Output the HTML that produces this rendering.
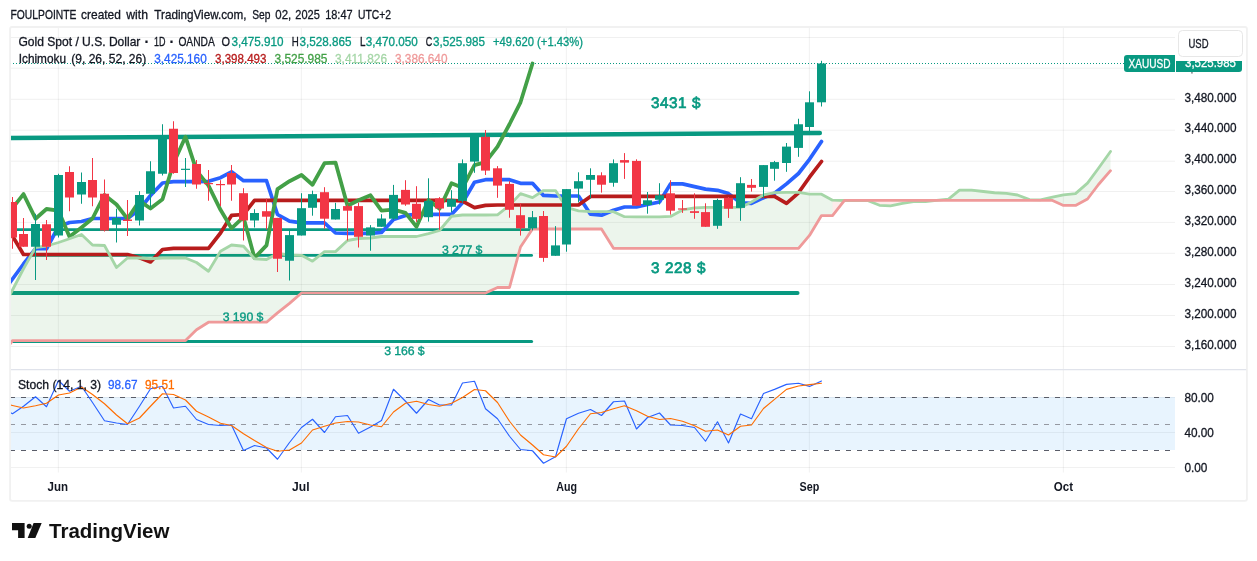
<!DOCTYPE html>
<html lang="en"><head><meta charset="utf-8"><title>Gold Spot / U.S. Dollar - TradingView</title>
<style>html,body{margin:0;padding:0;background:#fff;}body{width:1257px;height:561px;overflow:hidden;}svg{display:block;}text{font-family:"Liberation Sans", sans-serif;}</style>
</head><body>
<svg width="1257" height="561" viewBox="0 0 1257 561">
<rect width="1257" height="561" fill="#fff"/>
<g stroke="#000" stroke-opacity="0.057" stroke-width="1">
<line x1="10" x2="1175" y1="346.5" y2="346.5"/>
<line x1="10" x2="1175" y1="315.5" y2="315.5"/>
<line x1="10" x2="1175" y1="284.5" y2="284.5"/>
<line x1="10" x2="1175" y1="253.3" y2="253.3"/>
<line x1="10" x2="1175" y1="222.4" y2="222.4"/>
<line x1="10" x2="1175" y1="191.5" y2="191.5"/>
<line x1="10" x2="1175" y1="161.2" y2="161.2"/>
<line x1="10" x2="1175" y1="130.2" y2="130.2"/>
<line x1="10" x2="1175" y1="99.3" y2="99.3"/>
<line x1="10" x2="1175" y1="68.2" y2="68.2"/>
<line x1="10" x2="1175" y1="37.5" y2="37.5"/>
<line x1="10" x2="1175" y1="467.45" y2="467.45"/>
<line x1="10" x2="1175" y1="432.45" y2="432.45"/>
<line x1="10" x2="1175" y1="397.45" y2="397.45"/>
<line x1="58.35" x2="58.35" y1="27" y2="472.5"/>
<line x1="301.35" x2="301.35" y1="27" y2="472.5"/>
<line x1="566.35" x2="566.35" y1="27" y2="472.5"/>
<line x1="809.35" x2="809.35" y1="27" y2="472.5"/>
<line x1="1063.35" x2="1063.35" y1="27" y2="472.5"/>
</g>
<rect x="10" y="397" width="1165" height="53" fill="#2196f3" fill-opacity="0.1"/>
<g fill="none" stroke-width="1" shape-rendering="crispEdges">
<line x1="9.9" x2="1175" y1="397.5" y2="397.5" stroke="#5a5d68" stroke-dasharray="5 6"/>
<line x1="9.9" x2="1175" y1="424.5" y2="424.5" stroke="#9598a1" stroke-dasharray="5 6"/>
<line x1="9.9" x2="1175" y1="450.5" y2="450.5" stroke="#5a5d68" stroke-dasharray="5 6"/>
</g>
<defs><clipPath id="cm"><rect x="10.5" y="27" width="1165" height="343"/></clipPath><clipPath id="cs"><rect x="10.5" y="370" width="1165" height="103"/></clipPath></defs>
<g clip-path="url(#cm)">
<g stroke="#089981" stroke-linecap="round" fill="none">
<line x1="10" y1="137.9" x2="819.8" y2="133" stroke-width="4.5"/>
<line x1="10" y1="229.6" x2="531.6" y2="229.6" stroke-width="2.8"/>
<line x1="30" y1="255.4" x2="531.6" y2="255.4" stroke-width="2.8"/>
<line x1="10" y1="293" x2="797.5" y2="293" stroke-width="4.1"/>
<line x1="10" y1="341.4" x2="531.6" y2="341.4" stroke-width="3"/>
</g>
<polygon fill="#43a047" fill-opacity="0.1" points="8,298.69 12.5,290 23.5,268.75 35.5,247.5 46.5,246 58.5,242.5 69.5,238.75 81.5,234.5 92.5,245 104.5,245.5 116.5,267.5 127.5,258 139.5,258 150.5,258.75 162.5,258 173.5,258 185.5,258 196.5,262.5 208.5,271.25 220.5,251.25 231.5,245 243.5,246.25 254.5,258.75 266.5,259.5 277.5,253.5 289.5,255 301.5,255.3 312.5,261.2 324.5,251.62 335.5,251.62 347.5,240.5 358.5,238.5 370.5,238 381.5,236.5 393.5,236.5 405.5,236.5 416.5,236.5 428.5,233.65 439.5,230.5 451.5,216.25 462.5,215 474.5,215 485.5,215 497.5,214.8 509.5,205.35 520.5,193.6 532.5,197.6 543.5,190.55 555.5,190.55 566.5,207.45 578.5,210.8 590.5,211.65 601.5,211.65 613.5,211.65 624.5,216.7 636.5,216.85 647.5,216.85 659.5,216.85 670.5,216.45 682.5,209.95 694.5,207.9 705.5,207.4 717.5,207.4 728.5,207.4 740.5,207.4 751.5,202 763.5,194.9 774.5,192.55 786.5,192.35 798.5,192.35 809.5,194.15 821.5,194.15 832.5,200.2 832.5,215.6 821.5,215.6 809.5,235.4 798.5,248.3 786.5,248.3 774.5,248.3 763.5,248.3 751.5,248.3 740.5,248.3 728.5,248.3 717.5,248.3 705.5,248.3 694.5,248.3 682.5,248.3 670.5,248.3 659.5,248.3 647.5,248.3 636.5,248.3 624.5,248.3 613.5,248.3 601.5,229 590.5,229 578.5,229 566.5,229 555.5,229 543.5,229 532.5,229 520.5,247 509.5,287.5 497.5,287.5 485.5,293 474.5,293 462.5,293 451.5,293 439.5,293 428.5,293 416.5,293 405.5,293 393.5,293 381.5,293 370.5,293 358.5,293 347.5,293 335.5,293 324.5,293 312.5,293 301.5,293 289.5,303.4 277.5,312.9 266.5,322.2 254.5,322.2 243.5,322.2 231.5,322.2 220.5,322.2 208.5,322.2 196.5,329.8 185.5,340.6 173.5,340.6 162.5,340.6 150.5,340.6 139.5,340.6 127.5,340.6 116.5,340.6 104.5,340.6 92.5,340.6 81.5,340.6 69.5,340.6 58.5,340.6 46.5,340.6 35.5,340.6 23.5,340.6 12.5,340.6 8,347"/>
<polygon fill="#f44336" fill-opacity="0.1" points="832.5,200.2 844.5,200.5 855.5,200.5 867.5,200.5 879.5,205.3 890.5,205.8 902.5,203.3 913.5,201.7 925.5,201.7 936.5,200.45 936.5,200.4 925.5,200.4 913.5,200.4 902.5,200.4 890.5,200.4 879.5,200.4 867.5,200.4 855.5,200.4 844.5,200.4 832.5,215.6"/>
<polygon fill="#43a047" fill-opacity="0.1" points="936.5,200.45 948.5,199.2 959.5,190.15 971.5,190.15 983.5,191.5 994.5,192.75 1006.5,193.35 1017.5,195 1029.5,199.6 1040.5,199.85 1052.5,197.1 1063.5,194.85 1075.5,193.6 1087.5,183.15 1098.5,168.25 1110.5,151.5 1110.5,170.7 1098.5,184.5 1087.5,199 1075.5,205.4 1063.5,205.4 1052.5,200.4 1040.5,200.4 1029.5,200.4 1017.5,200.4 1006.5,200.4 994.5,200.4 983.5,200.4 971.5,200.4 959.5,200.4 948.5,200.4 936.5,200.4"/>
<polyline fill="none" stroke="#2962ff" stroke-width="3.7" stroke-linejoin="round" stroke-linecap="round"  points="8,285.14 12.5,279 23.5,264 35.5,248.75 46.5,248.75 58.5,226.5 69.5,222.5 81.5,221.5 92.5,218.5 104.5,218.5 116.5,218.5 127.5,218.5 139.5,209.5 150.5,195.5 162.5,183 173.5,181.7 185.5,181.7 196.5,181.7 208.5,181.3 220.5,177.7 231.5,171.8 243.5,180.7 254.5,180.7 266.5,180.7 277.5,214.5 289.5,221.2 301.5,222.9 312.5,222.9 324.5,222.9 335.5,233 347.5,233.3 358.5,233.3 370.5,233.3 381.5,232.5 393.5,219.5 405.5,215.4 416.5,214.4 428.5,214.4 439.5,214.4 451.5,214.4 462.5,202.8 474.5,182.2 485.5,179.7 497.5,179.7 509.5,179.7 520.5,183.3 532.5,183.3 543.5,195.4 555.5,196 566.5,196 578.5,196 590.5,214.2 601.5,215.2 613.5,210.2 624.5,207 636.5,207 647.5,204.5 659.5,202 670.5,183.9 682.5,183.9 694.5,186.6 705.5,189.1 717.5,190.3 728.5,193.6 740.5,202.8 751.5,203.3 763.5,197.8 774.5,193.3 786.5,183.9 798.5,173.5 809.5,159.3 821.5,141.5"/>
<polyline fill="none" stroke="#b71c1c" stroke-width="3.7" stroke-linejoin="round" stroke-linecap="round"  points="8,228.43 12.5,236 23.5,254.5 35.5,254.5 46.5,254.5 58.5,254.5 69.5,254.5 81.5,254.5 92.5,254.5 104.5,254.5 116.5,254.5 127.5,254.5 139.5,257.8 150.5,262 162.5,249.5 173.5,248.3 185.5,248.3 196.5,248.3 208.5,248.3 220.5,233 231.5,215.4 243.5,214.5 254.5,200.4 266.5,200.4 277.5,200.4 289.5,200.4 301.5,200.4 312.5,200.4 324.5,200.4 335.5,200.4 347.5,200.4 358.5,200.4 370.5,200.4 381.5,200.4 393.5,200.4 405.5,200.4 416.5,200.4 428.5,200.4 439.5,200.4 451.5,200.4 462.5,201.2 474.5,207.6 485.5,205.4 497.5,205 509.5,205 520.5,205 532.5,205 543.5,205 555.5,205 566.5,205 578.5,205 590.5,196.4 601.5,196.4 613.5,196.4 624.5,196.4 636.5,196.4 647.5,196.4 659.5,196.4 670.5,196.4 682.5,196.4 694.5,196.4 705.5,196.4 717.5,196.4 728.5,196.4 740.5,196.4 751.5,196.4 763.5,196.4 774.5,196.4 786.5,203.3 798.5,192.8 809.5,177.2 821.5,161.5"/>
<polyline fill="none" stroke="#43a047" stroke-width="3.8" stroke-linejoin="round" stroke-linecap="round"  points="8,213.97 12.5,208.2 23.5,194.1 35.5,218.7 46.5,209 58.5,210.7 69.5,236.8 81.5,227.4 92.5,218.5 104.5,194.9 116.5,204.5 127.5,218.9 139.5,200.9 150.5,208.5 162.5,199.2 173.5,163.2 185.5,136.8 196.5,170.6 208.5,185.6 220.5,209.8 231.5,228.3 243.5,217.2 254.5,257.9 266.5,245.4 277.5,189.1 289.5,181.2 301.5,175 312.5,184.7 324.5,163.2 335.5,162.6 347.5,205.7 358.5,200.3 370.5,195.3 381.5,210.7 393.5,209.6 405.5,212.9 416.5,226.8 428.5,200 439.5,208.7 451.5,183.2 462.5,187.8 474.5,165.1 485.5,162.1 497.5,146.6 509.5,124.25 520.5,102.3 532.5,63.5"/>
<polyline fill="none" stroke="#a5d6a7" stroke-width="2.8" stroke-linejoin="round" stroke-linecap="round"  points="8,298.69 12.5,290 23.5,268.75 35.5,247.5 46.5,246 58.5,242.5 69.5,238.75 81.5,234.5 92.5,245 104.5,245.5 116.5,267.5 127.5,258 139.5,258 150.5,258.75 162.5,258 173.5,258 185.5,258 196.5,262.5 208.5,271.25 220.5,251.25 231.5,245 243.5,246.25 254.5,258.75 266.5,259.5 277.5,253.5 289.5,255 301.5,255.3 312.5,261.2 324.5,251.62 335.5,251.62 347.5,240.5 358.5,238.5 370.5,238 381.5,236.5 393.5,236.5 405.5,236.5 416.5,236.5 428.5,233.65 439.5,230.5 451.5,216.25 462.5,215 474.5,215 485.5,215 497.5,214.8 509.5,205.35 520.5,193.6 532.5,197.6 543.5,190.55 555.5,190.55 566.5,207.45 578.5,210.8 590.5,211.65 601.5,211.65 613.5,211.65 624.5,216.7 636.5,216.85 647.5,216.85 659.5,216.85 670.5,216.45 682.5,209.95 694.5,207.9 705.5,207.4 717.5,207.4 728.5,207.4 740.5,207.4 751.5,202 763.5,194.9 774.5,192.55 786.5,192.35 798.5,192.35 809.5,194.15 821.5,194.15 832.5,200.2 844.5,200.5 855.5,200.5 867.5,200.5 879.5,205.3 890.5,205.8 902.5,203.3 913.5,201.7 925.5,201.7 936.5,200.45 948.5,199.2 959.5,190.15 971.5,190.15 983.5,191.5 994.5,192.75 1006.5,193.35 1017.5,195 1029.5,199.6 1040.5,199.85 1052.5,197.1 1063.5,194.85 1075.5,193.6 1087.5,183.15 1098.5,168.25 1110.5,151.5"/>
<polyline fill="none" stroke="#ef9a9a" stroke-width="2.8" stroke-linejoin="round" stroke-linecap="round"  points="8,347 12.5,340.6 23.5,340.6 35.5,340.6 46.5,340.6 58.5,340.6 69.5,340.6 81.5,340.6 92.5,340.6 104.5,340.6 116.5,340.6 127.5,340.6 139.5,340.6 150.5,340.6 162.5,340.6 173.5,340.6 185.5,340.6 196.5,329.8 208.5,322.2 220.5,322.2 231.5,322.2 243.5,322.2 254.5,322.2 266.5,322.2 277.5,312.9 289.5,303.4 301.5,293 312.5,293 324.5,293 335.5,293 347.5,293 358.5,293 370.5,293 381.5,293 393.5,293 405.5,293 416.5,293 428.5,293 439.5,293 451.5,293 462.5,293 474.5,293 485.5,293 497.5,287.5 509.5,287.5 520.5,247 532.5,229 543.5,229 555.5,229 566.5,229 578.5,229 590.5,229 601.5,229 613.5,248.3 624.5,248.3 636.5,248.3 647.5,248.3 659.5,248.3 670.5,248.3 682.5,248.3 694.5,248.3 705.5,248.3 717.5,248.3 728.5,248.3 740.5,248.3 751.5,248.3 763.5,248.3 774.5,248.3 786.5,248.3 798.5,248.3 809.5,235.4 821.5,215.6 832.5,215.6 844.5,200.4 855.5,200.4 867.5,200.4 879.5,200.4 890.5,200.4 902.5,200.4 913.5,200.4 925.5,200.4 936.5,200.4 948.5,200.4 959.5,200.4 971.5,200.4 983.5,200.4 994.5,200.4 1006.5,200.4 1017.5,200.4 1029.5,200.4 1040.5,200.4 1052.5,200.4 1063.5,205.4 1075.5,205.4 1087.5,199 1098.5,184.5 1110.5,170.7"/>
<rect x="12" y="197" width="1" height="51.75" fill="#f23645"/>
<rect x="8" y="202" width="9" height="35.5" fill="#f23645"/>
<rect x="23" y="218" width="1" height="28.75" fill="#f23645"/>
<rect x="19" y="234" width="9" height="12.75" fill="#f23645"/>
<rect x="35" y="213.75" width="1" height="66.25" fill="#089981"/>
<rect x="31" y="224" width="9" height="22.75" fill="#089981"/>
<rect x="46" y="220" width="1" height="40" fill="#f23645"/>
<rect x="42" y="224.25" width="9" height="22.5" fill="#f23645"/>
<rect x="58" y="173.75" width="1" height="63.75" fill="#089981"/>
<rect x="54" y="175" width="9" height="60.5" fill="#089981"/>
<rect x="69" y="166.25" width="1" height="45" fill="#f23645"/>
<rect x="65" y="172" width="9" height="25.5" fill="#f23645"/>
<rect x="81" y="172.5" width="1" height="31.25" fill="#089981"/>
<rect x="77" y="182" width="9" height="12.5" fill="#089981"/>
<rect x="92" y="158" width="1" height="48.25" fill="#f23645"/>
<rect x="88" y="180" width="9" height="17.5" fill="#f23645"/>
<rect x="104" y="179.5" width="1" height="52" fill="#f23645"/>
<rect x="100" y="193.75" width="9" height="36.75" fill="#f23645"/>
<rect x="116" y="208.75" width="1" height="33.75" fill="#089981"/>
<rect x="112" y="218" width="9" height="6.75" fill="#089981"/>
<rect x="127" y="200" width="1" height="36" fill="#f23645"/>
<rect x="123" y="219.5" width="9" height="1.5" fill="#f23645"/>
<rect x="139" y="191.25" width="1" height="34.25" fill="#089981"/>
<rect x="135" y="195" width="9" height="25.5" fill="#089981"/>
<rect x="150" y="161.25" width="1" height="46.25" fill="#089981"/>
<rect x="146" y="171.25" width="9" height="22.5" fill="#089981"/>
<rect x="162" y="124.25" width="1" height="51.25" fill="#089981"/>
<rect x="158" y="135" width="9" height="38.75" fill="#089981"/>
<rect x="173" y="121.25" width="1" height="52.5" fill="#f23645"/>
<rect x="169" y="128.75" width="9" height="44.25" fill="#f23645"/>
<rect x="185" y="158" width="1" height="29" fill="#089981"/>
<rect x="181" y="168.75" width="9" height="1.2" fill="#089981"/>
<rect x="196" y="160" width="1" height="28.75" fill="#f23645"/>
<rect x="192" y="164" width="9" height="20.5" fill="#f23645"/>
<rect x="208" y="170" width="1" height="30.75" fill="#f23645"/>
<rect x="204" y="183" width="9" height="1.2" fill="#f23645"/>
<rect x="220" y="180.2" width="1" height="25.9" fill="#f23645"/>
<rect x="216" y="184" width="9" height="1.2" fill="#f23645"/>
<rect x="231" y="165" width="1" height="35.75" fill="#f23645"/>
<rect x="227" y="173" width="9" height="11.5" fill="#f23645"/>
<rect x="243" y="188.2" width="1" height="52.3" fill="#f23645"/>
<rect x="239" y="193.2" width="9" height="27.2" fill="#f23645"/>
<rect x="254" y="209.25" width="1" height="18.25" fill="#089981"/>
<rect x="250" y="213" width="9" height="7.5" fill="#089981"/>
<rect x="266" y="198.6" width="1" height="31" fill="#f23645"/>
<rect x="262" y="211.2" width="9" height="5.5" fill="#f23645"/>
<rect x="277" y="217.9" width="1" height="54.1" fill="#f23645"/>
<rect x="273" y="217.9" width="9" height="40.85" fill="#f23645"/>
<rect x="289" y="230.8" width="1" height="49.7" fill="#089981"/>
<rect x="285" y="235.1" width="9" height="25.65" fill="#089981"/>
<rect x="301" y="193.2" width="1" height="42.3" fill="#089981"/>
<rect x="297" y="208.2" width="9" height="27.3" fill="#089981"/>
<rect x="312" y="190.7" width="1" height="25" fill="#089981"/>
<rect x="308" y="194.1" width="9" height="13.7" fill="#089981"/>
<rect x="324" y="187.2" width="1" height="41.6" fill="#f23645"/>
<rect x="320" y="192.2" width="9" height="26.5" fill="#f23645"/>
<rect x="335" y="202.8" width="1" height="16.7" fill="#089981"/>
<rect x="331" y="209" width="9" height="10.5" fill="#089981"/>
<rect x="347" y="204.5" width="1" height="36" fill="#f23645"/>
<rect x="343" y="206.1" width="9" height="4.6" fill="#f23645"/>
<rect x="358" y="202.8" width="1" height="44.7" fill="#f23645"/>
<rect x="354" y="206.1" width="9" height="30.7" fill="#f23645"/>
<rect x="370" y="225.1" width="1" height="25.65" fill="#089981"/>
<rect x="366" y="227.4" width="9" height="8.1" fill="#089981"/>
<rect x="381" y="214.2" width="1" height="12.6" fill="#089981"/>
<rect x="377" y="218.5" width="9" height="8.3" fill="#089981"/>
<rect x="393" y="184.9" width="1" height="35.1" fill="#089981"/>
<rect x="389" y="194.9" width="9" height="23.8" fill="#089981"/>
<rect x="405" y="180.2" width="1" height="25.6" fill="#f23645"/>
<rect x="401" y="189.9" width="9" height="14.6" fill="#f23645"/>
<rect x="416" y="186.2" width="1" height="35.7" fill="#f23645"/>
<rect x="412" y="203.8" width="9" height="15.1" fill="#f23645"/>
<rect x="428" y="178.3" width="1" height="43.3" fill="#089981"/>
<rect x="424" y="200.9" width="9" height="16.3" fill="#089981"/>
<rect x="439" y="197.1" width="1" height="32.7" fill="#f23645"/>
<rect x="435" y="198.4" width="9" height="10.1" fill="#f23645"/>
<rect x="451" y="190.2" width="1" height="21.8" fill="#089981"/>
<rect x="447" y="199.2" width="9" height="7.6" fill="#089981"/>
<rect x="462" y="159.4" width="1" height="43.2" fill="#089981"/>
<rect x="458" y="163.2" width="9" height="37.7" fill="#089981"/>
<rect x="474" y="136.8" width="1" height="36" fill="#089981"/>
<rect x="470" y="136.8" width="9" height="24.8" fill="#089981"/>
<rect x="485" y="130" width="1" height="45" fill="#f23645"/>
<rect x="481" y="136.8" width="9" height="33.8" fill="#f23645"/>
<rect x="497" y="166.1" width="1" height="31.7" fill="#f23645"/>
<rect x="493" y="168.3" width="9" height="17.3" fill="#f23645"/>
<rect x="509" y="181.2" width="1" height="36.5" fill="#f23645"/>
<rect x="505" y="183.9" width="9" height="25.9" fill="#f23645"/>
<rect x="520" y="203.3" width="1" height="32.3" fill="#f23645"/>
<rect x="516" y="215.2" width="9" height="13.1" fill="#f23645"/>
<rect x="532" y="211" width="1" height="19.3" fill="#089981"/>
<rect x="528" y="217.2" width="9" height="11.1" fill="#089981"/>
<rect x="543" y="211" width="1" height="50.8" fill="#f23645"/>
<rect x="539" y="216" width="9" height="41.9" fill="#f23645"/>
<rect x="555" y="226.1" width="1" height="29.7" fill="#089981"/>
<rect x="551" y="245.4" width="9" height="10.4" fill="#089981"/>
<rect x="566" y="189.1" width="1" height="62.6" fill="#089981"/>
<rect x="562" y="189.1" width="9" height="55.4" fill="#089981"/>
<rect x="578" y="172.3" width="1" height="30.1" fill="#089981"/>
<rect x="574" y="181.2" width="9" height="7.4" fill="#089981"/>
<rect x="590" y="168.3" width="1" height="29.9" fill="#089981"/>
<rect x="586" y="175" width="9" height="4.8" fill="#089981"/>
<rect x="601" y="172.3" width="1" height="20.3" fill="#f23645"/>
<rect x="597" y="175.3" width="9" height="9.4" fill="#f23645"/>
<rect x="613" y="159.4" width="1" height="27.3" fill="#089981"/>
<rect x="609" y="163.2" width="9" height="19.6" fill="#089981"/>
<rect x="624" y="153.1" width="1" height="25.8" fill="#f23645"/>
<rect x="620" y="160.1" width="9" height="2.5" fill="#f23645"/>
<rect x="636" y="159.3" width="1" height="46.4" fill="#f23645"/>
<rect x="632" y="160.9" width="9" height="44.8" fill="#f23645"/>
<rect x="647" y="192" width="1" height="21.7" fill="#089981"/>
<rect x="643" y="200.3" width="9" height="4.7" fill="#089981"/>
<rect x="659" y="183.2" width="1" height="21.3" fill="#089981"/>
<rect x="655" y="195.3" width="9" height="4.5" fill="#089981"/>
<rect x="670" y="180.2" width="1" height="34.4" fill="#f23645"/>
<rect x="666" y="193.3" width="9" height="17.4" fill="#f23645"/>
<rect x="682" y="200" width="1" height="12.9" fill="#f23645"/>
<rect x="678" y="208.4" width="9" height="1.2" fill="#f23645"/>
<rect x="694" y="193.3" width="1" height="25.5" fill="#f23645"/>
<rect x="690" y="211.2" width="9" height="1.7" fill="#f23645"/>
<rect x="705" y="203.3" width="1" height="23.5" fill="#f23645"/>
<rect x="701" y="212.1" width="9" height="14.7" fill="#f23645"/>
<rect x="717" y="198.7" width="1" height="30.1" fill="#089981"/>
<rect x="713" y="200" width="9" height="25.8" fill="#089981"/>
<rect x="728" y="197" width="1" height="20.9" fill="#f23645"/>
<rect x="724" y="197.8" width="9" height="10.9" fill="#f23645"/>
<rect x="740" y="177.2" width="1" height="43.6" fill="#089981"/>
<rect x="736" y="183.2" width="9" height="24.7" fill="#089981"/>
<rect x="751" y="179" width="1" height="12.6" fill="#f23645"/>
<rect x="747" y="184.9" width="9" height="2.9" fill="#f23645"/>
<rect x="763" y="165.1" width="1" height="32.7" fill="#089981"/>
<rect x="759" y="165.1" width="9" height="21.8" fill="#089981"/>
<rect x="774" y="160.9" width="1" height="19.8" fill="#089981"/>
<rect x="770" y="162.1" width="9" height="6.7" fill="#089981"/>
<rect x="786" y="143" width="1" height="28.8" fill="#089981"/>
<rect x="782" y="146.6" width="9" height="16.4" fill="#089981"/>
<rect x="798" y="118.75" width="1" height="38.05" fill="#089981"/>
<rect x="794" y="124.25" width="9" height="23.65" fill="#089981"/>
<rect x="809" y="91.3" width="1" height="40.7" fill="#089981"/>
<rect x="805" y="102.3" width="9" height="24.7" fill="#089981"/>
<rect x="821" y="60.8" width="1" height="45.7" fill="#089981"/>
<rect x="817" y="63.5" width="9" height="38.8" fill="#089981"/>
</g>
<line x1="10" x2="1124" y1="63.5" y2="63.5" stroke="#089981" stroke-width="1" stroke-dasharray="1 2" shape-rendering="crispEdges"/>
<text text-rendering="geometricPrecision" transform="translate(651,107.9) scale(1,1.0)" font-size="15.3" fill="#089981" stroke="#089981" stroke-width="0.7" textLength="49.4" lengthAdjust="spacing">3431 $</text>
<text text-rendering="geometricPrecision" transform="translate(442,253.7) scale(1,1.0)" font-size="12.3" fill="#089981" stroke="#089981" stroke-width="0.35" textLength="40.3" lengthAdjust="spacing">3 277 $</text>
<text text-rendering="geometricPrecision" transform="translate(651,272.9) scale(1,1.0)" font-size="15.3" fill="#089981" stroke="#089981" stroke-width="0.7" textLength="54.5" lengthAdjust="spacing">3 228 $</text>
<text text-rendering="geometricPrecision" transform="translate(222.7,320.5) scale(1,1.0)" font-size="12.3" fill="#089981" stroke="#089981" stroke-width="0.35" textLength="40.7" lengthAdjust="spacing">3 190 $</text>
<text text-rendering="geometricPrecision" transform="translate(384.2,354.5) scale(1,1.0)" font-size="12.3" fill="#089981" stroke="#089981" stroke-width="0.35" textLength="40.3" lengthAdjust="spacing">3 166 $</text>
<g clip-path="url(#cs)">
<polyline fill="none" stroke="#2962ff" stroke-width="1.15" stroke-linejoin="round" stroke-linecap="round"  points="8,411.2 12.5,413.75 23.5,406.25 35.5,396.75 46.5,406.75 58.5,380.5 69.5,391.25 81.5,386.25 92.5,402.5 104.5,420.75 116.5,423 127.5,424.5 139.5,406.25 150.5,388.75 162.5,386.25 173.5,408 185.5,406.25 196.5,419.5 208.5,424.5 220.5,425.5 231.5,425 243.5,450.5 254.5,445.5 266.5,448 277.5,459.25 289.5,442.5 301.5,427.5 312.5,419.25 324.5,432.5 335.5,416.75 347.5,415.5 358.5,433.25 370.5,427 381.5,420.5 393.5,389.25 405.5,401.25 416.5,413.25 428.5,399.5 439.5,405 451.5,405 462.5,383 474.5,381.25 485.5,408.75 497.5,418.75 509.5,436.25 520.5,449.5 532.5,450.75 543.5,463.25 555.5,456.75 566.5,418.75 578.5,413.25 590.5,409.5 601.5,415.5 613.5,401.75 624.5,401 636.5,429 647.5,417.5 659.5,413 670.5,425 682.5,425.5 694.5,427.5 705.5,441.25 717.5,421.75 728.5,443 740.5,414 751.5,418.75 763.5,393.5 774.5,389.4 786.5,384.4 798.5,383.25 809.5,386.4 821.5,381"/>
<polyline fill="none" stroke="#ff6d00" stroke-width="1.15" stroke-linejoin="round" stroke-linecap="round"  points="8,404.48 12.5,405.5 23.5,408 35.5,405.75 46.5,403.25 58.5,395 69.5,393 81.5,387 92.5,394.5 104.5,403.75 116.5,415 127.5,423.75 139.5,418 150.5,406.25 162.5,393.75 173.5,394.5 185.5,400 196.5,411.25 208.5,417 220.5,423.25 231.5,425.5 243.5,433.75 254.5,440.5 266.5,447.5 277.5,451.25 289.5,450 301.5,443 312.5,430 324.5,426.25 335.5,423 347.5,421.5 358.5,422 370.5,425 381.5,426.75 393.5,412 405.5,403.25 416.5,401.25 428.5,404.5 439.5,406.25 451.5,403.25 462.5,397.5 474.5,389.5 485.5,390.75 497.5,402.5 509.5,421.25 520.5,435 532.5,445 543.5,454.75 555.5,457 566.5,446.25 578.5,428.75 590.5,413.75 601.5,412.5 613.5,408.75 624.5,405.75 636.5,410.75 647.5,416.25 659.5,419.5 670.5,418.5 682.5,421.25 694.5,425.75 705.5,431.25 717.5,430 728.5,435 740.5,426.25 751.5,425 763.5,408.5 774.5,399.4 786.5,389.4 798.5,386 809.5,384.6 821.5,383.25"/>
</g>
<text x="10.5" y="18.75" font-size="12.4" fill="#131722" font-weight="normal" text-anchor="start" textLength="65.9" lengthAdjust="spacingAndGlyphs" stroke="#131722" stroke-width="0.3" >FOULPOINTE</text>
<text x="81.1" y="18.75" font-size="12.4" fill="#131722" font-weight="normal" text-anchor="start" textLength="39.8" lengthAdjust="spacingAndGlyphs" stroke="#131722" stroke-width="0.3" >created</text>
<text x="126.3" y="18.75" font-size="12.4" fill="#131722" font-weight="normal" text-anchor="start" textLength="21.7" lengthAdjust="spacingAndGlyphs" stroke="#131722" stroke-width="0.3" >with</text>
<text x="154.3" y="18.75" font-size="12.4" fill="#131722" font-weight="normal" text-anchor="start" textLength="92.3" lengthAdjust="spacingAndGlyphs" stroke="#131722" stroke-width="0.3" >TradingView.com,</text>
<text x="252.3" y="18.75" font-size="12.4" fill="#131722" font-weight="normal" text-anchor="start" textLength="18.2" lengthAdjust="spacingAndGlyphs" stroke="#131722" stroke-width="0.3" >Sep</text>
<text x="275.3" y="18.75" font-size="12.4" fill="#131722" font-weight="normal" text-anchor="start" textLength="15.9" lengthAdjust="spacingAndGlyphs" stroke="#131722" stroke-width="0.3" >02,</text>
<text x="295.3" y="18.75" font-size="12.4" fill="#131722" font-weight="normal" text-anchor="start" textLength="24.5" lengthAdjust="spacingAndGlyphs" stroke="#131722" stroke-width="0.3" >2025</text>
<text x="325.2" y="18.75" font-size="12.4" fill="#131722" font-weight="normal" text-anchor="start" textLength="27.4" lengthAdjust="spacingAndGlyphs" stroke="#131722" stroke-width="0.3" >18:47</text>
<text x="358" y="18.75" font-size="12.4" fill="#131722" font-weight="normal" text-anchor="start" textLength="33" lengthAdjust="spacingAndGlyphs" stroke="#131722" stroke-width="0.3" >UTC+2</text>
<text x="18.4" y="45.75" font-size="12.4" fill="#131722" font-weight="normal" text-anchor="start" textLength="122" lengthAdjust="spacingAndGlyphs" stroke="#131722" stroke-width="0.3" >Gold Spot / U.S. Dollar</text>
<text x="144.3" y="46.65" font-size="16" fill="#131722" font-weight="bold" text-anchor="start" >·</text>
<text x="153.9" y="45.75" font-size="12.4" fill="#131722" font-weight="normal" text-anchor="start" textLength="11.5" lengthAdjust="spacingAndGlyphs" stroke="#131722" stroke-width="0.3" >1D</text>
<text x="169.3" y="46.65" font-size="16" fill="#131722" font-weight="bold" text-anchor="start" >·</text>
<text x="178.4" y="45.75" font-size="12.4" fill="#131722" font-weight="normal" text-anchor="start" textLength="36.4" lengthAdjust="spacingAndGlyphs" stroke="#131722" stroke-width="0.3" >OANDA</text>
<text x="221.5" y="45.75" font-size="12.4" fill="#131722" font-weight="normal" text-anchor="start" textLength="8.5" lengthAdjust="spacingAndGlyphs" stroke="#131722" stroke-width="0.3" >O</text>
<text x="231.5" y="45.75" font-size="12.4" fill="#089981" font-weight="normal" text-anchor="start" textLength="52" lengthAdjust="spacingAndGlyphs" stroke="#089981" stroke-width="0.3" >3,475.910</text>
<text x="291.75" y="45.75" font-size="12.4" fill="#131722" font-weight="normal" text-anchor="start" textLength="7" lengthAdjust="spacingAndGlyphs" stroke="#131722" stroke-width="0.3" >H</text>
<text x="299.5" y="45.75" font-size="12.4" fill="#089981" font-weight="normal" text-anchor="start" textLength="52" lengthAdjust="spacingAndGlyphs" stroke="#089981" stroke-width="0.3" >3,528.865</text>
<text x="360" y="45.75" font-size="12.4" fill="#131722" font-weight="normal" text-anchor="start" textLength="5.5" lengthAdjust="spacingAndGlyphs" stroke="#131722" stroke-width="0.3" >L</text>
<text x="365.75" y="45.75" font-size="12.4" fill="#089981" font-weight="normal" text-anchor="start" textLength="52" lengthAdjust="spacingAndGlyphs" stroke="#089981" stroke-width="0.3" >3,470.050</text>
<text x="425.75" y="45.75" font-size="12.4" fill="#131722" font-weight="normal" text-anchor="start" textLength="6.5" lengthAdjust="spacingAndGlyphs" stroke="#131722" stroke-width="0.3" >C</text>
<text x="433" y="45.75" font-size="12.4" fill="#089981" font-weight="normal" text-anchor="start" textLength="52" lengthAdjust="spacingAndGlyphs" stroke="#089981" stroke-width="0.3" >3,525.985</text>
<text x="493" y="45.75" font-size="12.4" fill="#089981" font-weight="normal" text-anchor="start" textLength="90" lengthAdjust="spacingAndGlyphs" stroke="#089981" stroke-width="0.3" >+49.620 (+1.43%)</text>
<text x="18.75" y="62.75" font-size="12.4" fill="#131722" font-weight="normal" text-anchor="start" textLength="47.25" lengthAdjust="spacingAndGlyphs" stroke="#131722" stroke-width="0.3" >Ichimoku</text>
<text x="71.25" y="62.75" font-size="12.4" fill="#131722" font-weight="normal" text-anchor="start" textLength="75" lengthAdjust="spacingAndGlyphs" stroke="#131722" stroke-width="0.3" >(9, 26, 52, 26)</text>
<text x="154.25" y="62.75" font-size="12.4" fill="#2962ff" font-weight="normal" text-anchor="start" textLength="52.5" lengthAdjust="spacingAndGlyphs" stroke="#2962ff" stroke-width="0.3" >3,425.160</text>
<text x="215" y="62.75" font-size="12.4" fill="#b71c1c" font-weight="normal" text-anchor="start" textLength="51.5" lengthAdjust="spacingAndGlyphs" stroke="#b71c1c" stroke-width="0.3" >3,398.493</text>
<text x="274.5" y="62.75" font-size="12.4" fill="#43a047" font-weight="normal" text-anchor="start" textLength="53" lengthAdjust="spacingAndGlyphs" stroke="#43a047" stroke-width="0.3" >3,525.985</text>
<text x="335" y="62.75" font-size="12.4" fill="#a5d6a7" font-weight="normal" text-anchor="start" textLength="52" lengthAdjust="spacingAndGlyphs" stroke="#a5d6a7" stroke-width="0.3" >3,411.826</text>
<text x="395" y="62.75" font-size="12.4" fill="#ef9a9a" font-weight="normal" text-anchor="start" textLength="52.5" lengthAdjust="spacingAndGlyphs" stroke="#ef9a9a" stroke-width="0.3" >3,386.640</text>
<text x="18" y="388.5" font-size="12.4" fill="#131722" font-weight="normal" text-anchor="start" textLength="83" lengthAdjust="spacingAndGlyphs" stroke="#131722" stroke-width="0.3" >Stoch (14, 1, 3)</text>
<text x="108" y="388.5" font-size="12.4" fill="#2962ff" font-weight="normal" text-anchor="start" textLength="29.5" lengthAdjust="spacingAndGlyphs" stroke="#2962ff" stroke-width="0.3" >98.67</text>
<text x="145" y="388.5" font-size="12.4" fill="#ff6d00" font-weight="normal" text-anchor="start" textLength="29.5" lengthAdjust="spacingAndGlyphs" stroke="#ff6d00" stroke-width="0.3" >95.51</text>
<text x="1184.4" y="348.75" font-size="12.4" fill="#131722" font-weight="normal" text-anchor="start" textLength="52.2" lengthAdjust="spacingAndGlyphs" stroke="#131722" stroke-width="0.3" >3,160.000</text>
<text x="1184.4" y="317.75" font-size="12.4" fill="#131722" font-weight="normal" text-anchor="start" textLength="52.2" lengthAdjust="spacingAndGlyphs" stroke="#131722" stroke-width="0.3" >3,200.000</text>
<text x="1184.4" y="286.75" font-size="12.4" fill="#131722" font-weight="normal" text-anchor="start" textLength="52.2" lengthAdjust="spacingAndGlyphs" stroke="#131722" stroke-width="0.3" >3,240.000</text>
<text x="1184.4" y="255.55" font-size="12.4" fill="#131722" font-weight="normal" text-anchor="start" textLength="52.2" lengthAdjust="spacingAndGlyphs" stroke="#131722" stroke-width="0.3" >3,280.000</text>
<text x="1184.4" y="224.65" font-size="12.4" fill="#131722" font-weight="normal" text-anchor="start" textLength="52.2" lengthAdjust="spacingAndGlyphs" stroke="#131722" stroke-width="0.3" >3,320.000</text>
<text x="1184.4" y="193.75" font-size="12.4" fill="#131722" font-weight="normal" text-anchor="start" textLength="52.2" lengthAdjust="spacingAndGlyphs" stroke="#131722" stroke-width="0.3" >3,360.000</text>
<text x="1184.4" y="163.45" font-size="12.4" fill="#131722" font-weight="normal" text-anchor="start" textLength="52.2" lengthAdjust="spacingAndGlyphs" stroke="#131722" stroke-width="0.3" >3,400.000</text>
<text x="1184.4" y="132.45" font-size="12.4" fill="#131722" font-weight="normal" text-anchor="start" textLength="52.2" lengthAdjust="spacingAndGlyphs" stroke="#131722" stroke-width="0.3" >3,440.000</text>
<text x="1184.4" y="101.55" font-size="12.4" fill="#131722" font-weight="normal" text-anchor="start" textLength="52.2" lengthAdjust="spacingAndGlyphs" stroke="#131722" stroke-width="0.3" >3,480.000</text>
<text x="1184.4" y="471.5" font-size="12.4" fill="#131722" font-weight="normal" text-anchor="start" textLength="23" lengthAdjust="spacingAndGlyphs" stroke="#131722" stroke-width="0.3" >0.00</text>
<text x="1184.4" y="436.5" font-size="12.4" fill="#131722" font-weight="normal" text-anchor="start" textLength="29.5" lengthAdjust="spacingAndGlyphs" stroke="#131722" stroke-width="0.3" >40.00</text>
<text x="1184.4" y="401.5" font-size="12.4" fill="#131722" font-weight="normal" text-anchor="start" textLength="29.5" lengthAdjust="spacingAndGlyphs" stroke="#131722" stroke-width="0.3" >80.00</text>
<path d="M1127,55 H1175 V72 H1127 a3,3 0 0 1 -3,-3 V58 a3,3 0 0 1 3,-3 Z" fill="#089981"/>
<text x="1128.5" y="67.75" font-size="12.4" fill="#fff" font-weight="normal" text-anchor="start" textLength="42" lengthAdjust="spacingAndGlyphs" stroke="#fff" stroke-width="0.3" >XAUUSD</text>
<path d="M1176,55 H1242 V69 a3,3 0 0 1 -3,3 H1176 Z" fill="#089981"/>
<text x="1185" y="67" font-size="12.4" fill="#fff" font-weight="normal" text-anchor="start" textLength="51" lengthAdjust="spacingAndGlyphs" stroke="#fff" stroke-width="0.3" >3,525.985</text>
<rect x="1176" y="28" width="70" height="33" fill="#fff"/>
<rect x="1191.4" y="72" width="1.1" height="1.6" fill="#131722" fill-opacity="0.75"/>
<rect x="1178.5" y="30.5" width="64" height="26" rx="4" ry="4" fill="#fff" stroke="#e7e7e7" stroke-width="1"/>
<text x="1188.5" y="47.75" font-size="12.4" fill="#131722" font-weight="normal" text-anchor="start" textLength="20" lengthAdjust="spacingAndGlyphs" stroke="#131722" stroke-width="0.3" >USD</text>
<text x="47.5" y="490.75" font-size="12.4" fill="#131722" font-weight="bold" text-anchor="start" textLength="20.5" lengthAdjust="spacingAndGlyphs" >Jun</text>
<text x="292" y="490.75" font-size="12.4" fill="#131722" font-weight="bold" text-anchor="start" textLength="17.5" lengthAdjust="spacingAndGlyphs" >Jul</text>
<text x="556.23" y="490.75" font-size="12.4" fill="#131722" font-weight="bold" text-anchor="start" textLength="20.75" lengthAdjust="spacingAndGlyphs" >Aug</text>
<text x="799.52" y="490.75" font-size="12.4" fill="#131722" font-weight="bold" text-anchor="start" textLength="19.75" lengthAdjust="spacingAndGlyphs" >Sep</text>
<text x="1053.78" y="490.75" font-size="12.4" fill="#131722" font-weight="bold" text-anchor="start" textLength="19.25" lengthAdjust="spacingAndGlyphs" >Oct</text>
<g fill="#111">
<path d="M12,523 H24.6 V538 H18.1 V530.2 H12 Z"/>
<circle cx="29.2" cy="526.3" r="2.5"/>
<path d="M33.6,523 H41.7 L35.3,538 H27.7 Z"/>
</g>
<text x="49" y="538" font-size="20.2" fill="#111" font-weight="bold" text-anchor="start" textLength="120.5" lengthAdjust="spacingAndGlyphs" >TradingView</text>
<rect x="10.05" y="27" width="1236.9" height="473.8" rx="2" ry="2" fill="none" stroke="#f1f1f1" stroke-width="1.8"/>
<line x1="11" x2="1246.2" y1="369.55" y2="369.55" stroke="#e0e3eb" stroke-width="1.2"/>
</svg>
</body></html>
